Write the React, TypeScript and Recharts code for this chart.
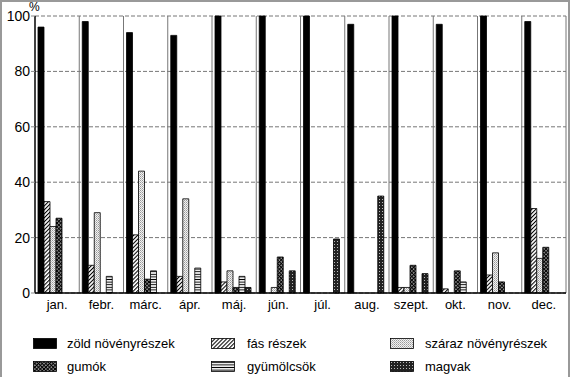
import { BarChart, Bar, XAxis, YAxis, CartesianGrid } from "recharts";

const months = ["jan.", "febr.", "márc.", "ápr.", "máj.", "jún.", "júl.", "aug.", "szept.", "okt.", "nov.", "dec."];
const zold = [96, 98, 94, 93, 100, 100, 100, 97, 100, 97, 100, 98];
const fas = [33, 10, 21, 6, 4, 0, 0, 0, 2, 1.5, 6.5, 30.5];
const szaraz = [24, 29, 44, 34, 8, 2, 0, 0, 2, 0, 14.5, 12.5];
const gumok = [27, 0, 5, 0, 2, 13, 0, 0, 10, 8, 4, 16.5];
const gyumolcs = [0, 6, 8, 9, 6, 0, 0, 0, 0, 4, 0, 0];
const magvak = [0, 0, 0, 0, 2, 8, 19.5, 35, 7, 0, 0, 0];
const yTicks = [0, 20, 40, 60, 80, 100];

const data = months.map((m, i) => ({
  month: m,
  zold: zold[i],
  fas: fas[i],
  szaraz: szaraz[i],
  gumok: gumok[i],
  gyumolcs: gyumolcs[i],
  magvak: magvak[i],
}));

const series = [
  { key: "zold", name: "zöld növényrészek", fill: "#000" },
  { key: "fas", name: "fás részek", fill: "url(#p-fas)" },
  { key: "szaraz", name: "száraz növényrészek", fill: "url(#p-szaraz)" },
  { key: "gumok", name: "gumók", fill: "url(#p-gumok)" },
  { key: "gyumolcs", name: "gyümölcsök", fill: "url(#p-gyum)" },
  { key: "magvak", name: "magvak", fill: "url(#p-magvak)" },
];

// legend laid out in 3 columns x 2 rows, like the print
const legendCols = [
  { swatchX: 33, textX: 67 },
  { swatchX: 211, textX: 247 },
  { swatchX: 390, textX: 425 },
];
const legendRows = [338, 361];

const font = "'Liberation Sans', Arial, sans-serif";

function Patterns() {
  return (
    <defs>
      <pattern id="p-fas" width={2.8} height={2.8} patternUnits="userSpaceOnUse" patternTransform="rotate(45)">
        <rect width={2.8} height={2.8} fill="#fff" />
        <line x1={0.5} y1={0} x2={0.5} y2={2.8} stroke="#000" strokeWidth={1.1} />
      </pattern>
      <pattern id="p-szaraz" width={2} height={2} patternUnits="userSpaceOnUse">
        <rect width={2} height={2} fill="#f2f2f2" />
        <rect x={0} y={0} width={1} height={1} fill="#999" />
        <rect x={1} y={1} width={1} height={1} fill="#bbb" />
      </pattern>
      <pattern id="p-gumok" width={2.6} height={2.6} patternUnits="userSpaceOnUse" patternTransform="rotate(45)">
        <rect width={2.6} height={2.6} fill="#999" />
        <line x1={0.5} y1={0} x2={0.5} y2={2.6} stroke="#000" strokeWidth={1} />
        <line x1={0} y1={0.5} x2={2.6} y2={0.5} stroke="#000" strokeWidth={1} />
      </pattern>
      <pattern id="p-gyum" width={3} height={2.6} patternUnits="userSpaceOnUse">
        <rect width={3} height={2.6} fill="#fff" />
        <line x1={0} y1={1.3} x2={3} y2={1.3} stroke="#000" strokeWidth={1} />
      </pattern>
      <pattern id="p-magvak" width={3} height={3} patternUnits="userSpaceOnUse">
        <rect width={3} height={3} fill="#222" />
        <rect x={1} y={1} width={1} height={1} fill="#bbb" />
      </pattern>
    </defs>
  );
}

export default function App() {
  return (
    <div style={{ position: "absolute", left: 0, top: 0, width: 570, height: 377, background: "#fff", fontFamily: font }}>
      <BarChart
        width={570}
        height={377}
        data={data}
        margin={{ top: 16, right: 4, left: 0, bottom: 54 }}
        barCategoryGap={3}
        barGap={0}
      >
        <Patterns />
        <CartesianGrid vertical={false} stroke="#777" strokeDasharray="4 2" />
        <CartesianGrid
          horizontal={false}
          stroke="#777"
          verticalCoordinatesGenerator={({ offset }: any) =>
            months.slice(1).map((_, i) => offset.left + ((i + 1) * offset.width) / months.length).concat([offset.left + offset.width])
          }
        />
        <XAxis
          dataKey="month"
          axisLine={{ stroke: "#000", strokeWidth: 1.5 }}
          tickLine={false}
          tickSize={0}
          tickMargin={7}
          height={30}
          tick={{ fill: "#000", fontSize: 13, fontFamily: font }}
        />
        <YAxis
          domain={[0, 100]}
          ticks={yTicks}
          width={35}
          axisLine={{ stroke: "#000", strokeWidth: 1.5 }}
          tickLine={{ stroke: "#888" }}
          tickSize={4}
          tickMargin={1}
          tick={{ fill: "#000", fontSize: 14, fontFamily: font }}
        />
        {series.map((s) => (
          <Bar
            key={s.key}
            dataKey={s.key}
            name={s.name}
            fill={s.fill}
            stroke="#000"
            strokeWidth={0.8}
            isAnimationActive={false}
          />
        ))}
      </BarChart>

      <div style={{ position: "absolute", left: 29, top: 1, fontSize: 12, lineHeight: "12px", color: "#000" }}>%</div>

      {series.map((s, i) => {
        const col = legendCols[i % 3];
        const top = legendRows[Math.floor(i / 3)];
        return (
          <div key={s.key}>
            <svg style={{ position: "absolute", left: col.swatchX, top }} width={24} height={11}>
              <rect x={0.5} y={0.5} width={23} height={10} fill={s.fill} stroke="#000" strokeWidth={0.8} />
            </svg>
            <div style={{ position: "absolute", left: col.textX, top: top - 2, fontSize: 13, lineHeight: "15px", color: "#000", whiteSpace: "nowrap" }}>
              {s.name}
            </div>
          </div>
        );
      })}

      <div
        style={{
          position: "absolute",
          inset: 0,
          borderLeft: "2px solid #999",
          borderTop: "2px solid #999",
          borderRight: "2px solid #999",
          pointerEvents: "none",
        }}
      />
    </div>
  );
}
